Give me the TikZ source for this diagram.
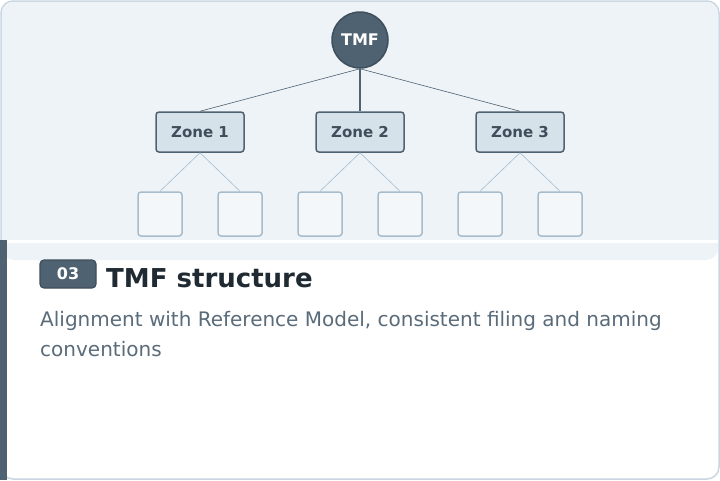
\documentclass[tikz,border=0pt]{standalone}
\usepackage{fontspec}
\setmainfont{DejaVu Sans}
\usetikzlibrary{positioning}
\definecolor{slate}{HTML}{4F6272}
\definecolor{panel}{HTML}{EEF3F7}
\definecolor{zonefill}{HTML}{D6E2EA}
\definecolor{leafline}{HTML}{A8BCCB}
\definecolor{leaffill}{HTML}{F4F7FA}
\definecolor{titlecol}{HTML}{1F2A33}
\definecolor{bodycol}{HTML}{5A6B7A}
\definecolor{cardline}{HTML}{C8D6E2}
\tikzset{
  zone/.style={draw=slate, line width=1.5pt, fill=zonefill, rounded corners=3pt, minimum width=88pt, minimum height=40pt, font=\bfseries\fontsize{15}{17}\selectfont, text=slate!80!black},
  leaf/.style={draw=leafline, line width=1.5pt, fill=leaffill, rounded corners=3pt, minimum size=44pt},
}
\begin{document}
\begin{tikzpicture}[x=1pt,y=-1pt]
        \useasboundingbox (0,0) rectangle (720,480);
        \draw[cardline, line width=1.5pt, fill=white, rounded corners=12pt] (1,1) rectangle (719,479);
        \fill[panel, rounded corners=12pt] (1.8,1.8) rectangle (718.2,260);
        \fill[white] (6,239.5) rectangle (718.2,243);
        \fill[slate] (0,240) rectangle (7,480);
        \node[circle, draw=slate!80!black, line width=1.5pt, fill=slate, minimum size=56pt, text=white, font=\bfseries\fontsize{16}{18}\selectfont] (tmf) at (360,40) {TMF};
        \node[zone] (z1) at (200,132) {Zone 1};
        \node[zone] (z2) at (360,132) {Zone 2};
        \node[zone] (z3) at (520,132) {Zone 3};
        \node[leaf] (l1) at (160,214) {};
        \node[leaf] (l2) at (240,214) {};
        \node[leaf] (l3) at (320,214) {};
        \node[leaf] (l4) at (400,214) {};
        \node[leaf] (l5) at (480,214) {};
        \node[leaf] (l6) at (560,214) {};
        \draw[slate, line width=0.6pt] (tmf.south) -- (z1.north);
        \draw[slate, line width=1.5pt] (tmf.south) -- (z2.north);
        \draw[slate, line width=0.6pt] (tmf.south) -- (z3.north);
        \draw[leafline, line width=0.6pt] (z1.south) -- (l1.north) (z1.south) -- (l2.north);
        \draw[leafline, line width=0.6pt] (z2.south) -- (l3.north) (z2.south) -- (l4.north);
        \draw[leafline, line width=0.6pt] (z3.south) -- (l5.north) (z3.south) -- (l6.north);
        \node[draw=slate!80!black, line width=1.2pt, fill=slate, rounded corners=4pt, minimum width=56pt, minimum height=28pt, text=white, font=\bfseries\fontsize{16}{18}\selectfont] (badge) at (68,274) {03};
        \node[anchor=west, text=titlecol, font=\bfseries\fontsize{26}{30}\selectfont, inner sep=0pt] (title) at (106,278) {TMF structure};
        \node[anchor=north west, text=bodycol, font=\fontsize{20}{30}\selectfont, align=left, inner sep=0pt] (body) at (40,311) {Alignment with Reference Model, consistent filing and naming\\conventions};
    \end{tikzpicture}
\end{document}
